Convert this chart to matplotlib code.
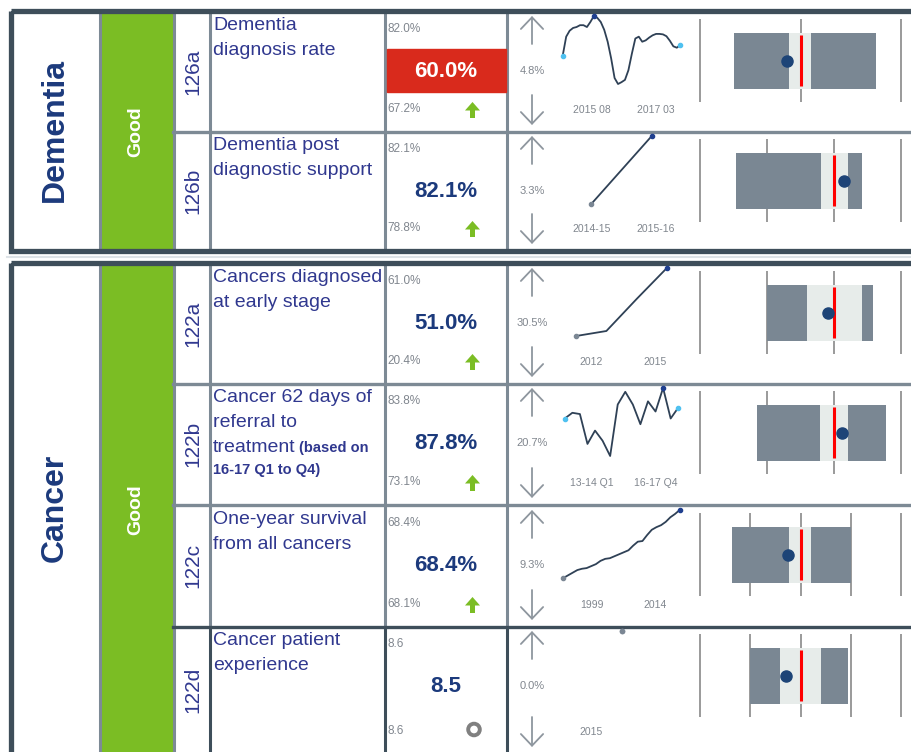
import numpy as np
import matplotlib.pyplot as plt
from matplotlib.patches import Rectangle, FancyArrow, Circle

plt.rcParams['font.family'] = ['Liberation Sans', 'DejaVu Sans']

W, H = 911, 752

# ---- data ----
sections = ['Dementia', 'Cancer']
ratings = ['Good', 'Good']
ids = ['126a', '126b', '122a', '122b', '122c', '122d']
names = [['Dementia', 'diagnosis rate'],
         ['Dementia post', 'diagnostic support'],
         ['Cancers diagnosed', 'at early stage'],
         ['Cancer 62 days of', 'referral to', 'treatment'],
         ['One-year survival', 'from all cancers'],
         ['Cancer patient', 'experience']]
note_122b = ['(based on', '16-17 Q1 to Q4)']
values = ['60.0%', '82.1%', '51.0%', '87.8%', '68.4%', '8.5']
range_top = ['82.0%', '82.1%', '61.0%', '83.8%', '68.4%', '8.6']
range_bottom = ['67.2%', '78.8%', '20.4%', '73.1%', '68.1%', '8.6']
red_flag = [True, False, False, False, False, False]
improving = [True, True, True, True, True, False]
changes = ['4.8%', '3.3%', '30.5%', '20.7%', '9.3%', '0.0%']
spark_labels = [['2015 08', '2017 03'], ['2014-15', '2015-16'], ['2012', '2015'],
                ['13-14 Q1', '16-17 Q4'], ['1999', '2014'], ['2015']]

spark_126a = [73.4, 77.5, 78.8, 79.4, 79.6, 80.0, 80.0, 79.6, 80.7, 82.0, 81.6, 80.7,
              79.0, 76.4, 72.8, 68.5, 67.2, 67.6, 68.1, 70.2, 73.8, 77.1, 77.5, 76.4,
              76.7, 77.3, 77.8, 78.1, 78.1, 78.0, 77.6, 76.6, 75.4, 75.1, 75.7]
spark_126b = [78.8, 82.1]
spark_122a = [44.2, 44.7, 47.9, 51.0]
spark_122b = [79.0, 79.9, 79.7, 75.0, 77.1, 75.5, 73.1, 81.2, 83.2, 81.2, 78.1, 81.7,
              80.1, 83.8, 79.0, 80.7]
spark_122c = [58.1, 58.5, 58.9, 59.3, 59.5, 59.6, 59.9, 60.2, 60.7, 61.0, 61.1, 61.4,
              61.7, 62.0, 62.3, 63.0, 63.6, 63.7, 64.6, 65.4, 65.8, 66.1, 66.6, 67.3,
              67.8, 68.4]
spark_122d = [8.5]
sparks = [spark_126a, spark_126b, spark_122a, spark_122b, spark_122c, spark_122d]

LB, DB, GR = '#4fc1f0', '#1f3f8f', '#7b8794'
spark_first = [LB, GR, GR, LB, GR, GR]
spark_last = [LB, DB, DB, LB, DB, GR]
spark_max = [True, False, False, True, False, False]

# bullet charts, positions as fraction of the axis
bullet_intervals = [2, 3, 3, 3, 4, 4]
bullet_low = [0.172, 0.182, 0.336, 0.282, 0.159, 0.251]
bullet_ci_lo = [0.443, 0.600, 0.534, 0.598, 0.445, 0.396]
bullet_ci_hi = [0.552, 0.737, 0.803, 0.738, 0.550, 0.600]
bullet_high = [0.877, 0.803, 0.859, 0.926, 0.750, 0.736]
bullet_ref = [0.501, 0.665, 0.665, 0.665, 0.500, 0.500]
bullet_dot = [0.433, 0.718, 0.639, 0.704, 0.439, 0.430]

# ---- layout (pixels) ----
row_top = [13, 133, 265, 385, 507, 628]
row_bot = [130, 249, 382, 503, 625, 752]
blocks = [(8, 253), (260, 760)]
block_rows = [(0, 2), (2, 6)]

DARK = '#3e4e5a'
LINE = '#7d8a95'
NAVY = '#1c3a7c'
TXT = '#30388f'
SMALL = '#80868e'
GREEN = '#7bbd24'

fig = plt.figure(figsize=(W / 100, H / 100), dpi=100)
ax = fig.add_axes([0, 0, 1, 1])
ax.set_xlim(0, W)
ax.set_ylim(H, 0)
ax.axis('off')


def frac(x0, y0, x1, y1):
    return [x0 / W, 1 - y1 / H, (x1 - x0) / W, (y1 - y0) / H]


ax.plot([7, W], [256.5, 256.5], color='#dde2e6', lw=1.5)

for b, (y0, y1) in enumerate(blocks):
    yin1 = min(y1 - 4, H)
    ax.add_patch(Rectangle((100.5, y0 + 5), 73, yin1 - y0 - 5, color=GREEN, zorder=1))
    ax.text(55, 130 if b == 0 else 508, sections[b],
            rotation=90, ha='center', va='center', fontsize=23, fontweight='bold', color=NAVY)
    ax.text(136, 132 if b == 0 else 510, ratings[b], rotation=90, ha='center', va='center',
            fontsize=14, fontweight='bold', color='white')
    for x in [99.5, 174]:
        ax.plot([x, x], [y0 + 4, yin1], color=LINE, lw=2.2, zorder=2)
    r0, r1 = block_rows[b]
    for r in range(r0, r1):
        c = DARK if r == 5 else LINE
        for x in [210, 384.7, 506.7]:
            ax.plot([x, x], [row_top[r], row_bot[r]], color=c, lw=2.2, zorder=2)
        if r > r0:
            ax.plot([173, W], [(row_bot[r - 1] + row_top[r]) / 2] * 2, color=c,
                    lw=2.4, zorder=2)
    ax.add_patch(Rectangle((10.5, y0 + 2.5), 920, y1 - y0 - 5, fill=False,
                           edgecolor=DARK, lw=3.8, zorder=5))

for r in range(6):
    top, bot = row_top[r], row_bot[r]
    mid = (top + bot) / 2
    # id and name
    ax.text(192.5, mid, ids[r], rotation=90, ha='center', va='center', fontsize=15, color=TXT)
    for k, line in enumerate(names[r]):
        ax.text(213, top + 17 + 25 * k, line, ha='left', va='baseline', fontsize=14, color=TXT)
    if ids[r] == '122b':
        ax.text(299, top + 67, note_122b[0], ha='left', va='baseline', fontsize=10.5,
                fontweight='bold', color=TXT)
        ax.text(213, top + 89, note_122b[1], ha='left', va='baseline', fontsize=10.5,
                fontweight='bold', color=TXT)
    # value column
    ax.text(387, top + 16, range_top[r], ha='left', va='center', fontsize=8.5, color=SMALL)
    ax.text(387, bot - 21, range_bottom[r], ha='left', va='center', fontsize=8.5, color=SMALL)
    if red_flag[r]:
        ax.add_patch(Rectangle((386.5, top + 36), 119, 43, color='#d92a1c', zorder=2))
        ax.text(446, top + 58.5, values[r], ha='center', va='center', fontsize=16,
                fontweight='bold', color='white', zorder=3)
    else:
        ax.text(446, top + 58.5, values[r], ha='center', va='center', fontsize=16,
                fontweight='bold', color=NAVY)
    if improving[r]:
        ax.add_patch(FancyArrow(472.5, bot - 12, 0, -16, width=5, head_width=15,
                                head_length=8.5, length_includes_head=True, color=GREEN, lw=0))
    else:
        ax.add_patch(Circle((474, bot - 22.5), 5.8, fill=False, edgecolor='#808080', lw=2.8))
    # trend arrows and change
    arr = dict(arrowstyle='->,head_length=0.42,head_width=0.4', color='#8e969e', lw=1.3,
               mutation_scale=20, shrinkA=0, shrinkB=0)
    ax.annotate('', xy=(532, top + 3), xytext=(532, top + 31), arrowprops=arr)
    ax.annotate('', xy=(532, bot - 5), xytext=(532, bot - 35), arrowprops=arr)
    ax.text(532, top + 58, changes[r], ha='center', va='center', fontsize=8, color=SMALL)
    for lab, x in zip(spark_labels[r], [591.5, 655.5]):
        ax.text(x, bot - 20, lab, ha='center', va='center', fontsize=7.5, color=SMALL)

    # sparkline
    vals = sparks[r]
    n = len(vals)
    sa = fig.add_axes(frac(561, top + 3, 682, top + 71))
    sa.axis('off')
    xs = np.arange(n)
    sa.plot(xs, vals, color='#2f4156', lw=1.3, clip_on=False)
    sa.set_xlim(-0.5, n - 0.5)
    if n > 1:
        sa.set_ylim(min(vals), max(vals))
    else:
        sa.set_ylim(vals[0] - 1, vals[0])
    sa.plot(0, vals[0], 'o', ms=3, color=spark_first[r], clip_on=False, zorder=3)
    sa.plot(n - 1, vals[-1], 'o', ms=3, color=spark_last[r], clip_on=False, zorder=3)
    if spark_max[r]:
        i = int(np.argmax(vals))
        sa.plot(i, vals[i], 'o', ms=3, color=DB, clip_on=False, zorder=3)

    # bullet chart
    ba = fig.add_axes(frac(699, top + 6, 902, top + 89))
    ba.axis('off')
    ba.set_xlim(-0.004, 1.004)
    ba.set_ylim(0, 1)
    for t in np.linspace(0, 1, bullet_intervals[r] + 1):
        ba.axvline(t, color='#9a9a9a', lw=1.4, zorder=1)
    ba.barh(0.494, bullet_ci_lo[r] - bullet_low[r], left=bullet_low[r], height=0.674,
            color='#7a8793', zorder=2)
    ba.barh(0.494, bullet_ci_hi[r] - bullet_ci_lo[r], left=bullet_ci_lo[r], height=0.674,
            color='#e7ecea', zorder=2)
    ba.barh(0.494, bullet_high[r] - bullet_ci_hi[r], left=bullet_ci_hi[r], height=0.674,
            color='#7a8793', zorder=2)
    ba.vlines(bullet_ref[r], 0.193, 0.807, color='#ff0000', lw=2.2, zorder=3)
    ba.plot(bullet_dot[r], 0.494, 'o', ms=8, color='#1d4477', zorder=4)

fig.savefig('out.png', dpi=100)
